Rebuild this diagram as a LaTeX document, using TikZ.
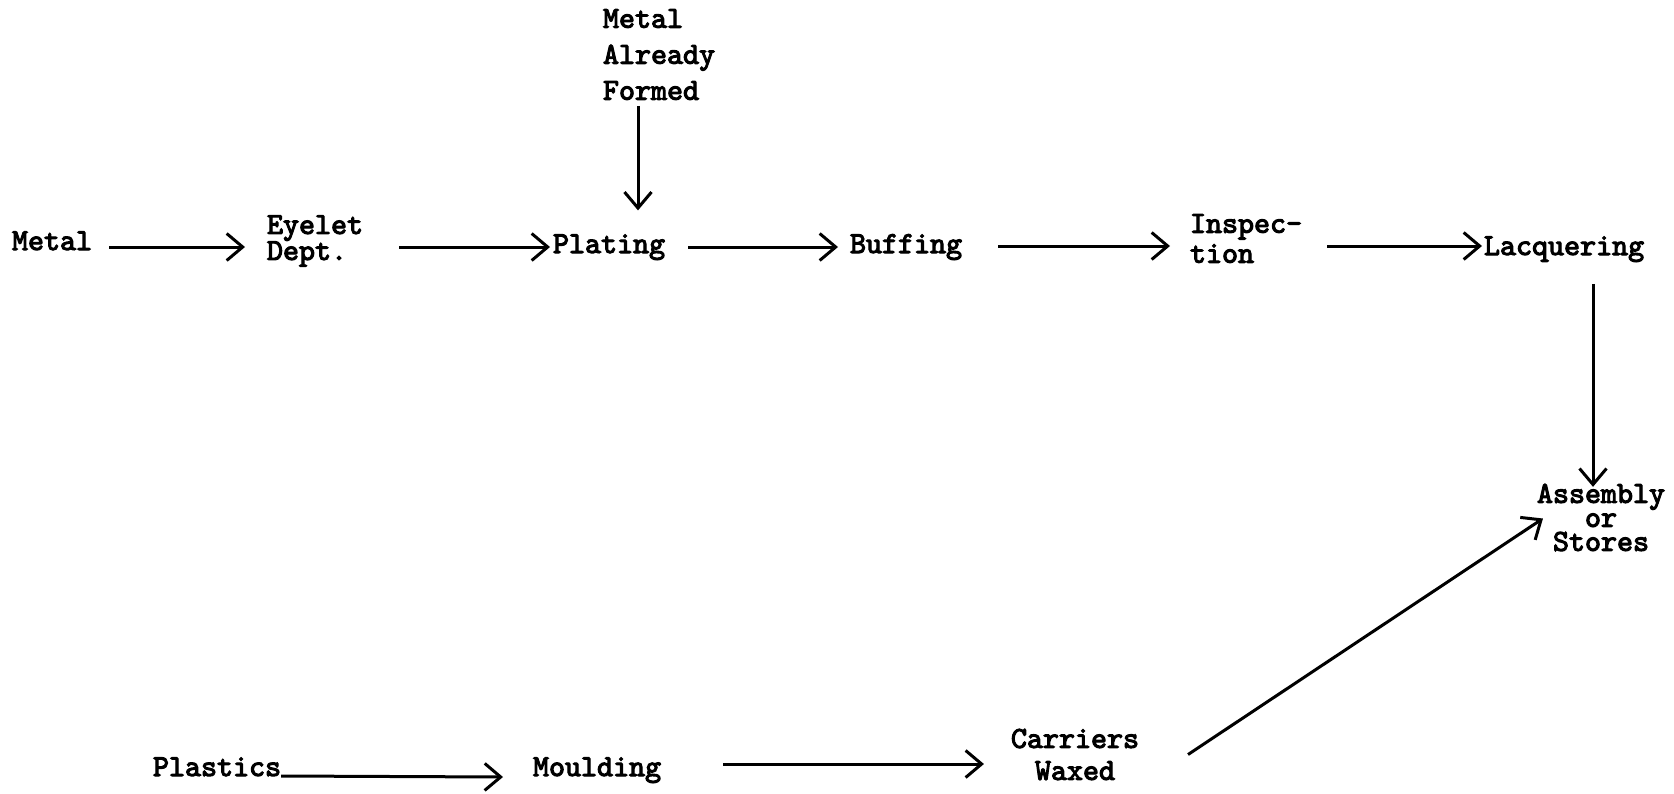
\documentclass[tikz,border=0pt]{standalone}
\usepackage{fontspec}
\newfontfamily\tw[FakeBold=3.5]{lmmono10-regular.otf}
\usetikzlibrary{arrows.meta,calc}
\begin{document}
\begin{tikzpicture}[x=1pt,y=-1pt,
  lbl/.style={font=\tw\fontsize{30.5}{26}\selectfont, inner sep=0pt, outer sep=0pt},
  flow/.style={line width=3pt, -{Straight Barb[length=16pt,width=27pt]}}]
\useasboundingbox[fill=white] (0,0) rectangle (1674,793);
% top row
\node[lbl,anchor=base west] (metal) at (12,250) {Metal};
\node[lbl,anchor=west,align=left,font=\tw\fontsize{30.5}{26}\selectfont] (eyelet) at (267,241) {Eyelet\\Dept.};
\node[lbl,anchor=base west] (plating) at (553,253) {Plating};
\node[lbl,anchor=base west] (buffing) at (850,253) {Buffing};
\node[lbl,anchor=west,align=left,font=\tw\fontsize{30.5}{30}\selectfont] (insp) at (1190,238.5) {Inspec-\\tion};
\node[lbl,anchor=base west] (lacq) at (1484,255) {Lacquering};
\node[lbl,anchor=west,align=left,font=\tw\fontsize{30.5}{36}\selectfont] (maf) at (603,54.5) {Metal\\Already\\Formed};
\node[lbl,anchor=center,align=center,font=\tw\fontsize{30.5}{24}\selectfont] (assembly) at (1601,517.5) {Assembly\\or\\Stores};
% bottom row
\node[lbl,anchor=base west] (plastics) at (153,776) {Plastics};
\node[lbl,anchor=base west] (moulding) at (533,776) {Moulding};
\node[lbl,anchor=center,align=center,font=\tw\fontsize{30.5}{32}\selectfont] (carriers) at (1075,754.5) {Carriers\\Waxed};
% rows
\coordinate (row1) at (0,247);
\coordinate (row3a) at (0,776);
\coordinate (row3b) at (0,764);
% connectors
\draw[flow] ($(metal.east |- row1)+(17,0)$) -- ($(eyelet.west |- row1)+(-22,0)$);
\draw[flow] ($(eyelet.east |- row1)+(36,0)$) -- ($(plating.west |- row1)+(-3,0)$);
\draw[flow] ($(plating.east |- row1)+(23,0)$) -- ($(buffing.west |- row1)+(-12,0)$);
\draw[flow] ($(buffing.east |- row1)+(36,-1)$) -- ($(insp.west |- row1)+(-20,-1)$);
\draw[flow] ($(insp.east |- row1)+(25,-1)$) -- ($(lacq.west |- row1)+(-2,-1)$);
\draw[flow] ($(maf.south west)+(35,6)$) -- ($(maf.south west |- plating.north)+(35,-24)$);
\draw[flow] ($(assembly.north |- lacq.south)+(-8,22)$) -- ($(assembly.north)+(-8,3)$);
\draw[flow] ($(plastics.east |- row3a)+(0,0)$) -- ($(moulding.west |- row3a)+(-30,1)$);
\draw[flow] ($(moulding.east |- row3b)+(62,0)$) -- ($(carriers.west |- row3b)+(-27,0)$);
\draw[flow] ($(carriers.east)+(49,0)$) -- ($(assembly.west)+(6,1)$);
\end{tikzpicture}
\end{document}
